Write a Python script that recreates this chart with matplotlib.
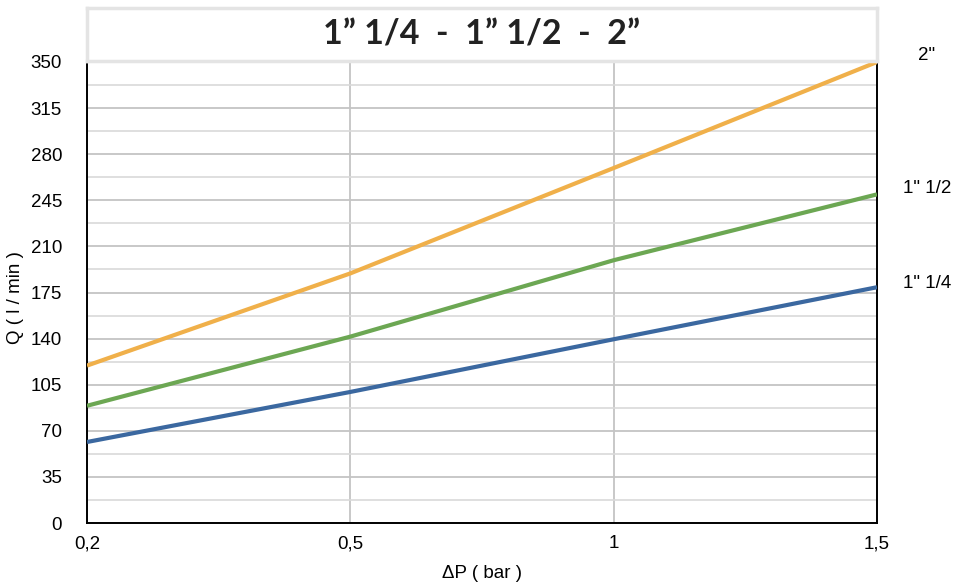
import matplotlib
matplotlib.use('Agg')
import matplotlib.pyplot as plt
from matplotlib.ticker import MultipleLocator

# pressure drop categories (equally spaced on the chart)
dp_labels = ['0,2', '0,5', '1', '1,5']

# flow rate Q (l/min) for each size
q_114 = [61.5, 99.5, 139.5, 179]
q_112 = [89, 141.5, 199.5, 249.5]
q_2 = [119.5, 189.5, 269.5, 350]

sizes = ['1" 1/4', '1" 1/2', '2"']
label_y = [181.5, 254, 355]
colors = ['#3B68A0', '#6CA753', '#F0B04A']

plt.rcParams['font.family'] = ['Liberation Sans', 'DejaVu Sans']

fig = plt.figure(figsize=(9.65, 5.84), dpi=100)
ax = fig.add_axes([87/965, 1 - 523/584, 790/965, 461/584])

for q, c in zip([q_114, q_112, q_2], colors):
    ax.plot(dp_labels, q, color=c, lw=3, solid_capstyle='butt', zorder=3)

ax.set_xlim(0, 3)
ax.set_ylim(0, 350)
ax.yaxis.set_major_locator(MultipleLocator(35))
ax.yaxis.set_minor_locator(MultipleLocator(17.5))

# grid
ax.grid(which='major', axis='y', color='#c4c4c4', lw=1.3)
ax.grid(which='minor', axis='y', color='#d9d9d9', lw=1.2)
ax.grid(which='major', axis='x', color='#c4c4c4', lw=1.3)
ax.set_axisbelow(True)

ax.tick_params(axis='both', which='both', length=0, labelsize=13.5)
ax.tick_params(axis='y', pad=18)
ax.tick_params(axis='x', pad=9)

for s in ['left', 'bottom', 'right']:
    ax.spines[s].set_color('black')
    ax.spines[s].set_linewidth(1.4)
ax.spines['top'].set_color('#8a8a8a')
ax.spines['top'].set_linewidth(1.4)

ax.set_xlabel('ΔP ( bar )', fontsize=13.5, labelpad=9)
ax.set_ylabel('Q ( l / min )', fontsize=13.5)
ax.yaxis.set_label_coords(-0.08, 0.49)

# size labels on the right
for name, y in zip(sizes, label_y):
    ax.text(1.063, y, name, transform=ax.get_yaxis_transform(),
            ha='center', va='center', fontsize=13.5, clip_on=False)

# title box
tax = fig.add_axes([87/965, 1 - 61/584, 790/965, 53/584])
tax.set_xticks([])
tax.set_yticks([])
for s in tax.spines.values():
    s.set_color('#e4e4e4')
    s.set_linewidth(2.5)
tax.text(0.5, 0.5, '1\u201d 1/4  -  1\u201d 1/2  -  2\u201d', ha='center', va='center',
         fontsize=24.5, fontweight='bold', color='#222222', family=['Lato', 'DejaVu Sans'])

fig.savefig('out.png', dpi=100)
